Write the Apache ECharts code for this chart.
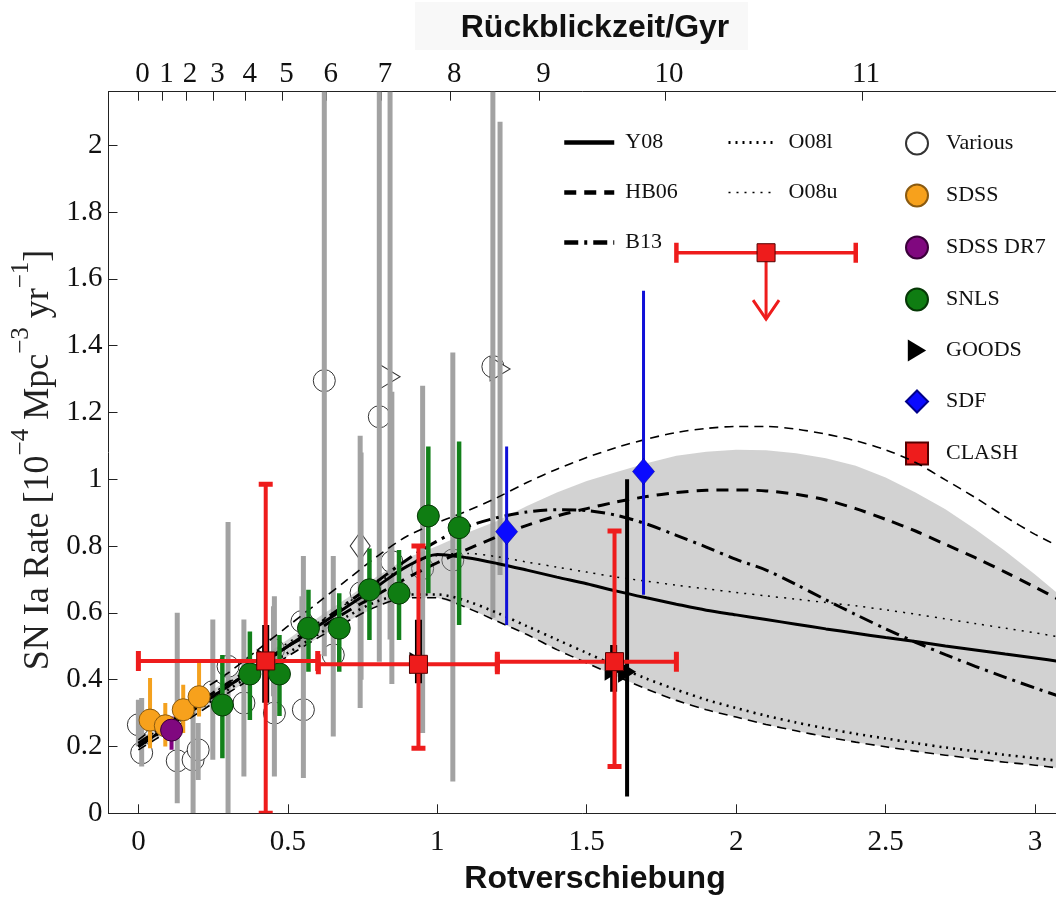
<!DOCTYPE html>
<html><head><meta charset="utf-8">
<script src="https://cdn.jsdelivr.net/npm/echarts@6/dist/echarts.min.js"></script>
<style>html,body{margin:0;padding:0;background:#fff}#c{width:1056px;height:897px}</style>
</head><body><div id="c"></div>
<script>
// ---- axis ticks ----
const xTicks = [0, 0.5, 1, 1.5, 2, 2.5, 3];
const yTicks = [0, 0.2, 0.4, 0.6, 0.8, 1, 1.2, 1.4, 1.6, 1.8, 2];
const lookbackGyr = [0, 1, 2, 3, 4, 5, 6, 7, 8, 9, 10, 11];
const lookbackZ = [0.0, 0.081, 0.159, 0.251, 0.359, 0.482, 0.630, 0.812, 1.043, 1.342, 1.762, 2.421];

// ---- model curves on a common redshift grid ----
const modelZ = [0, 0.1, 0.2, 0.3, 0.4, 0.5, 0.6, 0.7, 0.8, 0.9, 1.0, 1.1, 1.2, 1.3, 1.4, 1.5, 1.6, 1.7, 1.8, 1.9, 2.0, 2.1, 2.2, 2.3, 2.4, 2.5, 2.6, 2.7, 2.8, 2.9, 3.0, 3.1];
const y08R = [0.20, 0.26, 0.32, 0.38, 0.44, 0.50, 0.56, 0.62, 0.68, 0.74, 0.775, 0.765, 0.748, 0.728, 0.707, 0.687, 0.665, 0.645, 0.626, 0.608, 0.594, 0.580, 0.566, 0.552, 0.539, 0.526, 0.514, 0.501, 0.489, 0.477, 0.465, 0.452];
const hb06R = [0.21, 0.27, 0.33, 0.39, 0.445, 0.50, 0.55, 0.605, 0.655, 0.705, 0.75, 0.79, 0.828, 0.862, 0.89, 0.912, 0.932, 0.948, 0.96, 0.967, 0.968, 0.965, 0.955, 0.938, 0.912, 0.88, 0.845, 0.805, 0.765, 0.722, 0.677, 0.63];
const hb06UpperR = [0.22, 0.29, 0.36, 0.42, 0.49, 0.56, 0.63, 0.70, 0.77, 0.83, 0.87, 0.905, 0.945, 0.99, 1.03, 1.065, 1.095, 1.12, 1.14, 1.152, 1.158, 1.158, 1.15, 1.135, 1.115, 1.088, 1.05, 0.998, 0.945, 0.888, 0.835, 0.79];
const b13R = [0.20, 0.26, 0.32, 0.38, 0.44, 0.50, 0.565, 0.63, 0.695, 0.76, 0.815, 0.858, 0.885, 0.902, 0.909, 0.906, 0.892, 0.866, 0.832, 0.797, 0.76, 0.728, 0.685, 0.639, 0.595, 0.552, 0.512, 0.475, 0.44, 0.407, 0.375, 0.345];
const o08lR = [0.20, 0.255, 0.31, 0.37, 0.425, 0.48, 0.535, 0.59, 0.635, 0.655, 0.655, 0.635, 0.60, 0.56, 0.52, 0.48, 0.44, 0.403, 0.37, 0.34, 0.315, 0.292, 0.272, 0.254, 0.238, 0.224, 0.21, 0.197, 0.186, 0.175, 0.165, 0.155];
const o08uR = [0.21, 0.27, 0.33, 0.39, 0.45, 0.51, 0.57, 0.63, 0.69, 0.74, 0.772, 0.778, 0.768, 0.752, 0.737, 0.722, 0.707, 0.695, 0.683, 0.672, 0.661, 0.651, 0.641, 0.631, 0.621, 0.609, 0.596, 0.582, 0.568, 0.554, 0.54, 0.525];
const bandUpper = [0.22, 0.28, 0.34, 0.40, 0.46, 0.52, 0.585, 0.645, 0.71, 0.765, 0.80, 0.84, 0.875, 0.92, 0.96, 0.995, 1.022, 1.048, 1.07, 1.082, 1.088, 1.087, 1.078, 1.063, 1.04, 1.005, 0.96, 0.91, 0.85, 0.785, 0.715, 0.64];
const bandLower = [0.19, 0.245, 0.30, 0.36, 0.415, 0.47, 0.525, 0.575, 0.62, 0.645, 0.645, 0.615, 0.575, 0.535, 0.49, 0.45, 0.41, 0.372, 0.338, 0.31, 0.288, 0.266, 0.247, 0.229, 0.213, 0.199, 0.186, 0.174, 0.163, 0.153, 0.144, 0.133];

// ---- measurements: [z, rate, low, high] ----
const variousPts = [
  [0.011, 0.181, 0.14, 0.345], [0.0, 0.265, 0.20, 0.34], [0.13, 0.157, 0.03, 0.60],
  [0.183, 0.16, 0.0, 0.34], [0.20, 0.19, 0.10, 0.27], [0.249, 0.364, 0.16, 0.58],
  [0.30, 0.44, 0.0, 0.872], [0.353, 0.33, 0.11, 0.58], [0.452, 0.49, 0.35, 0.62],
  [0.455, 0.30, 0.11, 0.65], [0.552, 0.31, 0.106, 0.77], [0.547, 0.574, 0.50, 0.65],
  [0.652, 0.474, 0.23, 0.77], [0.622, 1.295, 0.47, 2.6], [0.745, 0.66, 0.40, 1.08],
  [0.806, 1.187, 0.454, 2.6], [0.848, 0.753, 0.387, 1.262], [0.951, 0.733, 0.24, 1.28],
  [1.052, 0.758, 0.095, 1.379], [1.186, 1.337, 0.585, 2.6]
];
const variousTri = [[0.842, 1.307, 0.52, 2.6], [1.21, 1.33, 0.713, 2.07]];
const variousDia = [[0.742, 0.80, 0.315, 1.13]];
const sdssPts = [[0.039, 0.279, 0.195, 0.405], [0.09, 0.262, 0.20, 0.33], [0.15, 0.31, 0.24, 0.385], [0.203, 0.349, 0.29, 0.454]];
const dr7Pts = [[0.111, 0.249, 0.19, 0.29]];
const snlsPts = [
  [0.281, 0.324, 0.165, 0.474], [0.373, 0.417, 0.279, 0.544], [0.472, 0.417, 0.291, 0.534],
  [0.569, 0.554, 0.424, 0.669], [0.672, 0.554, 0.424, 0.659], [0.773, 0.669, 0.519, 0.793],
  [0.872, 0.659, 0.519, 0.788], [0.970, 0.890, 0.659, 1.098], [1.073, 0.855, 0.564, 1.113]
];
const goodsPts = [[0.426, 0.46, 0.331, 0.564], [0.937, 0.45, 0.389, 0.579], [1.59, 0.43, 0.364, 0.504]];
const goodsWide = [[1.635, 0.424, 0.05, 1.0]];
const sdfPts = [[1.232, 0.843, 0.564, 1.098], [1.69, 1.023, 0.654, 1.564]];
// CLASH: [z, rate, zLow, zHigh, rateLow, rateHigh]
const clashPts = [[0.426, 0.456, 0.0, 0.6, 0.0, 0.985], [0.937, 0.446, 0.602, 1.201, 0.195, 0.80], [1.593, 0.454, 1.201, 1.8, 0.14, 0.845]];
// CLASH upper limit: [z, rate, zLow, zHigh, arrowEnd]
const clashLimit = [[2.1, 1.678, 1.8, 2.4, 1.479]];

// ---- helpers ----
const pairs = (zs, rs) => zs.map((z, i) => [z, rs[i]]);
const pt = arr => arr.map(p => [p[0], p[1]]);
const bars = arr => arr.map(p => [p[0], p[2], p[3]]);
const SERIF = '"Liberation Serif", "Times New Roman", serif';
const SANS = '"Liberation Sans", Arial, sans-serif';
const RED = '#ee1c1c';

function vBars(name, data, color, width, z) {
  return {
    name, type: 'custom', data, z, silent: true, clip: true,
    encode: {x: 0, y: [1, 2]},
    renderItem: (params, api) => {
      const x = api.value(0);
      const a = api.coord([x, api.value(1)]);
      const b = api.coord([x, api.value(2)]);
      return {type: 'line', shape: {x1: a[0], y1: a[1], x2: b[0], y2: b[1]}, style: {stroke: color, lineWidth: width}};
    }
  };
}
function modelLine(name, rates, width, type) {
  return {
    name, type: 'line', data: pairs(modelZ, rates), symbol: 'none', smooth: 0.3, clip: true, z: 5, silent: true,
    itemStyle: {color: '#000'},
    lineStyle: {color: '#000', width, type, cap: 'butt'}
  };
}
const lineLegendBase = {
  orient: 'vertical', top: 131.5, padding: 0, itemHeight: 22, itemGap: 28, selectedMode: false,
  itemStyle: {opacity: 0}
};

const option = {
  animation: false,
  backgroundColor: '#fff',
  grid: {left: 108.5, top: 91.7, right: 0, bottom: 83.7, containLabel: false, outerBoundsMode: 'none'},
  xAxis: [
    {
      type: 'value', min: -0.1, max: 3.07, position: 'bottom',
      axisLine: {show: true, onZero: false, lineStyle: {color: '#222', width: 1}},
      axisTick: {show: true, inside: true, length: 9, customValues: xTicks, lineStyle: {color: '#222'}},
      axisLabel: {customValues: xTicks, formatter: v => String(v), fontFamily: SERIF, fontSize: 29, color: '#111', margin: 15},
      splitLine: {show: false}
    },
    {
      type: 'value', min: -0.1, max: 3.07, position: 'top',
      axisLine: {show: true, onZero: false, lineStyle: {color: '#222', width: 1}},
      axisTick: {show: true, inside: true, length: 9, customValues: lookbackZ, lineStyle: {color: '#222'}},
      axisLabel: {
        customValues: lookbackZ, fontFamily: SERIF, fontSize: 29, color: '#111', margin: 3, padding: [0, 0, 0, 8],
        formatter: v => { const i = lookbackZ.findIndex(z => Math.abs(z - v) < 1e-6); return i >= 0 ? String(lookbackGyr[i]) : ''; }
      },
      splitLine: {show: false}
    }
  ],
  yAxis: {
    type: 'value', min: 0, max: 2.16,
    axisLine: {show: true, onZero: false, lineStyle: {color: '#222', width: 1}},
    axisTick: {show: true, inside: true, length: 9, customValues: yTicks, lineStyle: {color: '#222'}},
    axisLabel: {customValues: yTicks, formatter: v => String(Number(v.toFixed(1))), fontFamily: SERIF, fontSize: 29, color: '#111', margin: 6},
    splitLine: {show: false}
  },
  legend: [
    Object.assign({}, lineLegendBase, {
      data: [
        {name: 'Y08', lineStyle: {width: 4.5}},
        {name: 'HB06', lineStyle: {width: 4.5}},
        {name: 'B13', lineStyle: {width: 4.5}}
      ],
      left: 562, itemWidth: 50,
      textStyle: {fontFamily: SERIF, fontSize: 22, color: '#111', lineHeight: 22, padding: [0, 0, 0, 6]}
    }),
    Object.assign({}, lineLegendBase, {
      data: [
        {name: 'O08l', lineStyle: {width: 3}},
        {name: 'O08u', lineStyle: {width: 1.6}}
      ],
      left: 727, itemWidth: 45,
      textStyle: {fontFamily: SERIF, fontSize: 22, color: '#111', lineHeight: 22, padding: [0, 0, 0, 10]}
    }),
    {
      data: ['Various', 'SDSS', 'SDSS DR7', 'SNLS', 'GOODS', 'SDF', 'CLASH'], orient: 'vertical', left: 905, top: 131.5, padding: 0,
      itemWidth: 22, itemHeight: 22, itemGap: 28, selectedMode: false,
      textStyle: {fontFamily: SERIF, fontSize: 22, color: '#111', lineHeight: 22, padding: [0, 0, 0, 13]}
    }
  ],
  graphic: [
    {type: 'rect', shape: {x: 415, y: 2, width: 333, height: 48}, style: {fill: '#f8f8f8'}, z: 0},
    {type: 'text', x: 595, y: 28, z: 1, style: {text: 'Rückblickzeit/Gyr', font: 'bold 32px ' + SANS, fill: '#111', textAlign: 'center', textVerticalAlign: 'middle', align: 'center', verticalAlign: 'middle'}},
    {type: 'text', x: 595, y: 879, z: 1, style: {text: 'Rotverschiebung', font: 'bold 32px ' + SANS, fill: '#111', textAlign: 'center', textVerticalAlign: 'middle', align: 'center', verticalAlign: 'middle'}},
    {
      type: 'text', x: 33, y: 460, rotation: Math.PI / 2, z: 1,
      style: {
        text: '{a|SN Ia Rate [10}{s|−4}{a| Mpc}{s|−3}{a| yr}{s|−1}{a|]}',
        textAlign: 'center', textVerticalAlign: 'middle', align: 'center', verticalAlign: 'middle',
        rich: {
          a: {fontFamily: SERIF, fontSize: 36, lineHeight: 48, verticalAlign: 'bottom', fill: '#222', color: '#222'},
          s: {fontFamily: SERIF, fontSize: 25, lineHeight: 25, verticalAlign: 'top', fill: '#222', color: '#222'}
        }
      }
    }
  ],
  series: [
    // Various (gray) markers and error bars
    {
      name: 'Various', type: 'scatter', data: pt(variousPts), z: 2, symbol: 'circle', symbolSize: 22, silent: true,
      itemStyle: {color: '#fff', borderColor: '#333', borderWidth: 1, opacity: 1}
    },
    {
      name: 'VariousTri', type: 'scatter', data: pt(variousTri), z: 2, symbol: 'path://M0,0L10,6L0,12Z', symbolSize: [20, 24], silent: true,
      itemStyle: {color: '#fff', borderColor: '#333', borderWidth: 1, opacity: 1}
    },
    {
      name: 'VariousDia', type: 'scatter', data: pt(variousDia), z: 2, symbol: 'diamond', symbolSize: [20, 28], silent: true,
      itemStyle: {color: '#fff', borderColor: '#333', borderWidth: 1, opacity: 1}
    },
    vBars('variousBars', bars(variousPts.concat(variousTri)), '#a2a2a2', 5, 3),
    vBars('variousDiaBars', bars(variousDia), '#a2a2a2', 5, 3),
    // shaded band between bandLower and bandUpper
    {
      name: 'band', type: 'custom', data: [[0]], z: 4, silent: true, clip: true,
      renderItem: (params, api) => {
        const up = modelZ.map((z, i) => api.coord([z, bandUpper[i]]));
        const lo = modelZ.map((z, i) => api.coord([z, bandLower[i]])).reverse();
        return {type: 'polygon', shape: {points: up.concat(lo)}, style: {fill: 'rgba(150,150,150,0.43)', stroke: null}};
      }
    },
    // model curves
    modelLine('bandLowerLine', bandLower, 1.6, [9, 6]),
    modelLine('hb06Upper', hb06UpperR, 1.6, [9, 6]),
    modelLine('Y08', y08R, 3, 'solid'),
    modelLine('HB06', hb06R, 3, [12, 8]),
    modelLine('B13', b13R, 3, [14, 6, 3, 6]),
    modelLine('O08l', o08lR, 2.6, [2, 5]),
    modelLine('O08u', o08uR, 1.5, [2, 6]),
    // colored error bars
    vBars('sdssBars', bars(sdssPts), '#f4a11e', 4, 6),
    vBars('dr7Bars', bars(dr7Pts), '#800080', 4, 6),
    vBars('snlsBars', bars(snlsPts), '#12801a', 4.5, 6),
    vBars('sdfBars', bars(sdfPts), '#1010d8', 3, 6),
    vBars('goodsBars', bars(goodsPts), '#000', 7, 6),
    vBars('goodsWideBars', bars(goodsWide), '#000', 4, 6),
    // colored markers
    {name: 'SDSS', type: 'scatter', data: pt(sdssPts), z: 7, symbol: 'circle', symbolSize: 22, silent: true, itemStyle: {color: '#f7a11c', borderColor: '#8a5a10', borderWidth: 1, opacity: 1}},
    {name: 'SDSS DR7', type: 'scatter', data: pt(dr7Pts), z: 7, symbol: 'circle', symbolSize: 22, silent: true, itemStyle: {color: '#80087f', borderColor: '#3a003a', borderWidth: 1, opacity: 1}},
    {name: 'SNLS', type: 'scatter', data: pt(snlsPts), z: 7, symbol: 'circle', symbolSize: 22, silent: true, itemStyle: {color: '#0f7d12', borderColor: '#063806', borderWidth: 1, opacity: 1}},
    {name: 'GOODS', type: 'scatter', data: pt(goodsPts.concat(goodsWide)), z: 7, symbol: 'path://M0,0L10,6L0,12Z', symbolSize: [18, 22], silent: true, itemStyle: {color: '#000', opacity: 1}},
    {name: 'SDF', type: 'scatter', data: pt(sdfPts), z: 7, symbol: 'diamond', symbolSize: [22, 26], silent: true, itemStyle: {color: '#0a0aff', borderColor: '#00008a', borderWidth: 0.5, opacity: 1}},
    // CLASH
    {
      name: 'clashBars', type: 'custom', data: clashPts, z: 8, silent: true, clip: true,
      encode: {x: [0, 2, 3], y: [1, 4, 5]},
      renderItem: (params, api) => {
        const z = api.value(0), r = api.value(1);
        const L = api.coord([api.value(2), r]), R = api.coord([api.value(3), r]);
        const B = api.coord([z, api.value(4)]), T = api.coord([z, api.value(5)]);
        const st = {stroke: RED, lineWidth: 4};
        const capSt = {stroke: RED, lineWidth: 5};
        return {type: 'group', children: [
          {type: 'line', shape: {x1: L[0], y1: L[1], x2: R[0], y2: R[1]}, style: st},
          {type: 'line', shape: {x1: B[0], y1: B[1], x2: T[0], y2: T[1]}, style: st},
          {type: 'line', shape: {x1: L[0], y1: L[1] - 10, x2: L[0], y2: L[1] + 10}, style: capSt},
          {type: 'line', shape: {x1: R[0], y1: R[1] - 10, x2: R[0], y2: R[1] + 10}, style: capSt},
          {type: 'line', shape: {x1: B[0] - 7, y1: B[1], x2: B[0] + 7, y2: B[1]}, style: capSt},
          {type: 'line', shape: {x1: T[0] - 7, y1: T[1], x2: T[0] + 7, y2: T[1]}, style: capSt}
        ]};
      }
    },
    {
      name: 'clashLimitBars', type: 'custom', data: clashLimit, z: 8, silent: true, clip: true,
      encode: {x: [0, 2, 3], y: [1, 4]},
      renderItem: (params, api) => {
        const z = api.value(0), r = api.value(1);
        const L = api.coord([api.value(2), r]), R = api.coord([api.value(3), r]);
        const P = api.coord([z, r]), E = api.coord([z, api.value(4)]);
        const st = {stroke: RED, lineWidth: 3.5};
        return {type: 'group', children: [
          {type: 'line', shape: {x1: L[0], y1: L[1], x2: R[0], y2: R[1]}, style: st},
          {type: 'line', shape: {x1: L[0], y1: L[1] - 10, x2: L[0], y2: L[1] + 10}, style: {stroke: RED, lineWidth: 4.5}},
          {type: 'line', shape: {x1: R[0], y1: R[1] - 10, x2: R[0], y2: R[1] + 10}, style: {stroke: RED, lineWidth: 4.5}},
          {type: 'line', shape: {x1: P[0], y1: P[1], x2: E[0], y2: E[1]}, style: {stroke: RED, lineWidth: 3}},
          {type: 'polyline', shape: {points: [[E[0] - 13, E[1] - 19], [E[0], E[1]], [E[0] + 13, E[1] - 19]]}, style: {stroke: RED, lineWidth: 3, fill: null}}
        ]};
      }
    },
    {name: 'CLASH', type: 'scatter', data: pt(clashPts).concat(pt(clashLimit)), z: 9, symbol: 'rect', symbolSize: 18, silent: true, itemStyle: {color: RED, borderColor: '#500', borderWidth: 1, opacity: 1}}
  ]
};

const chart = echarts.init(document.getElementById('c'), null, {renderer: 'canvas', width: 1056, height: 897});
chart.setOption(option);
</script>
</body></html>
